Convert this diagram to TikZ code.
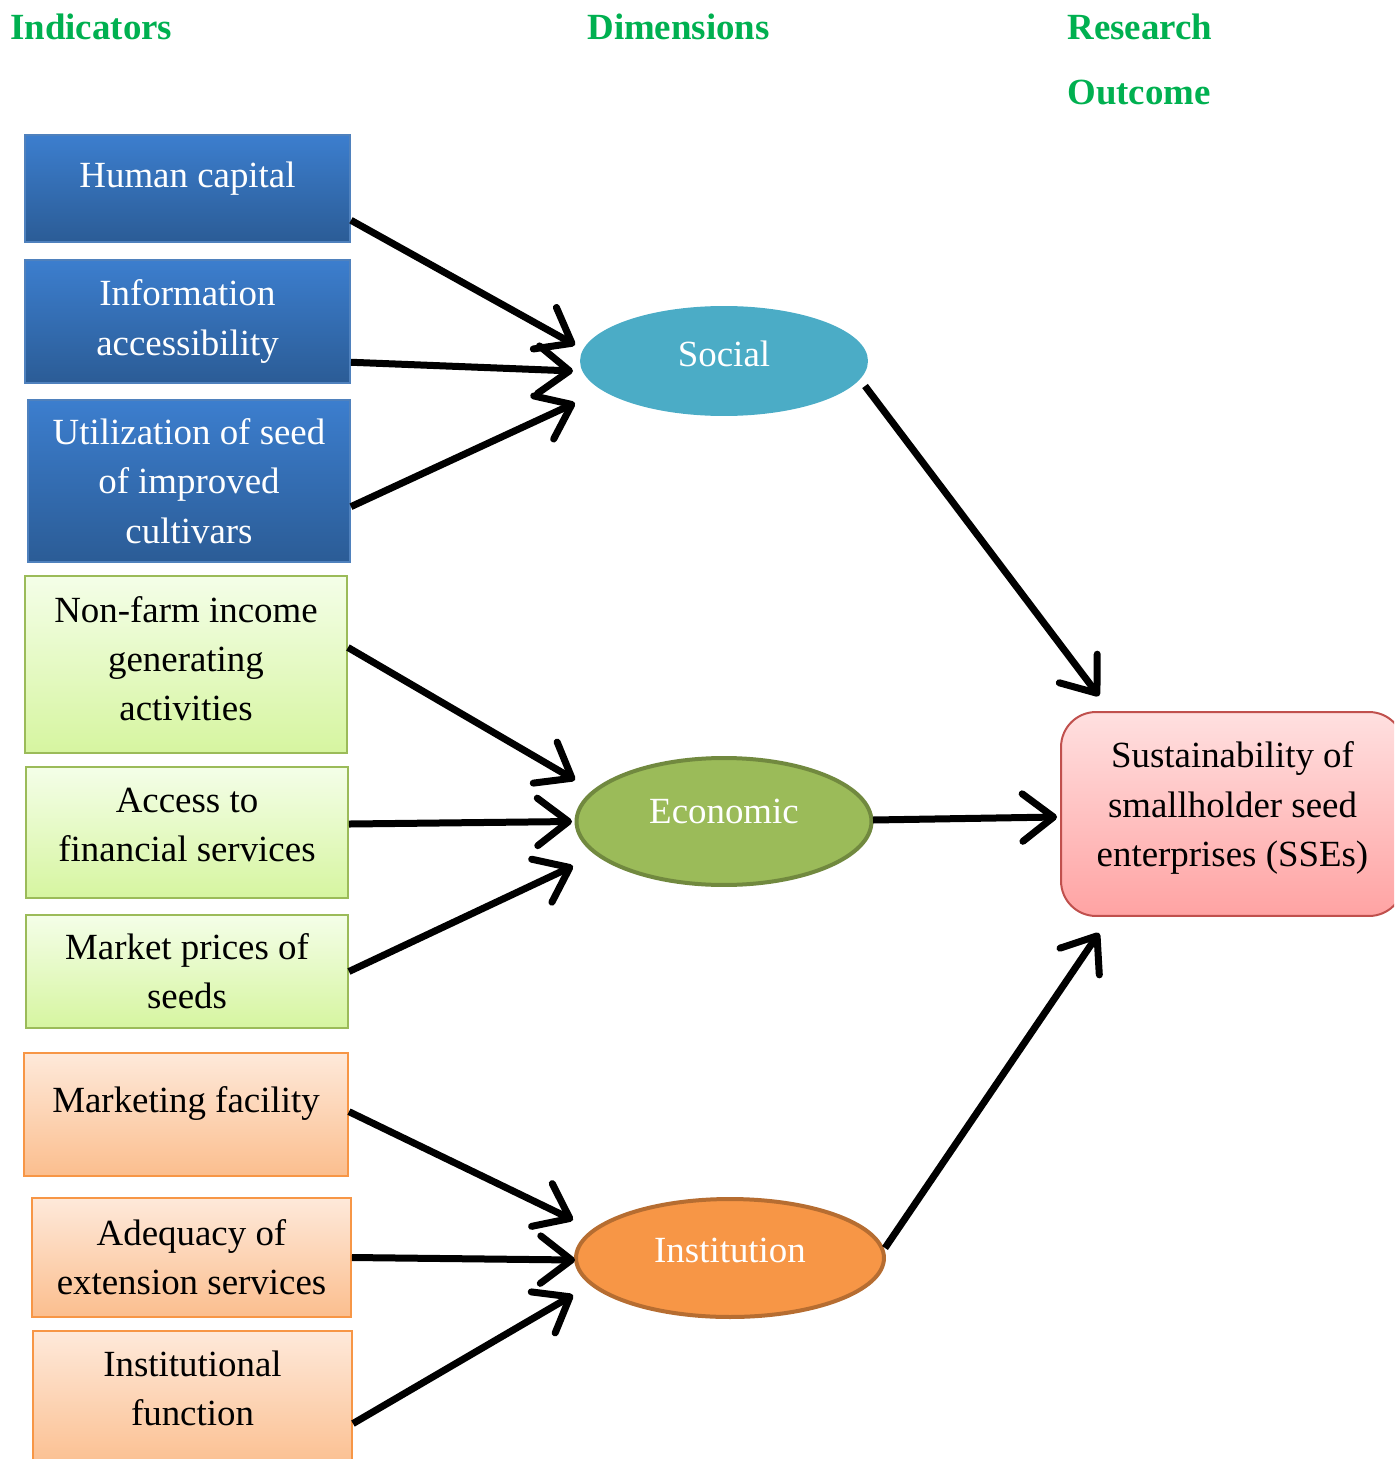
\documentclass[tikz,border=0pt]{standalone}
\usepackage{fontspec}
\setmainfont{Liberation Serif}
\usetikzlibrary{calc,arrows.meta,shapes.geometric}

\definecolor{headgreen}{RGB}{0,176,80}
\definecolor{bluetop}{RGB}{60,126,206}
\definecolor{bluebot}{RGB}{43,92,150}
\definecolor{blueline}{RGB}{79,129,189}
\definecolor{greentop}{RGB}{244,254,232}
\definecolor{greenbot}{RGB}{214,245,160}
\definecolor{greenline}{RGB}{155,187,89}
\definecolor{orangetop}{RGB}{254,233,218}
\definecolor{orangebot}{RGB}{251,190,142}
\definecolor{orangeline}{RGB}{247,150,70}
\definecolor{pinktop}{RGB}{255,224,224}
\definecolor{pinkbot}{RGB}{255,163,163}
\definecolor{pinkline}{RGB}{192,80,77}
\definecolor{socialfill}{RGB}{75,172,198}
\definecolor{ecofill}{RGB}{155,187,89}
\definecolor{ecoline}{RGB}{113,137,63}
\definecolor{instfill}{RGB}{247,150,70}
\definecolor{instline}{RGB}{182,109,49}

\tikzset{
  head/.style={inner sep=0pt, text=headgreen, align=left,
    font=\bfseries\fontsize{21}{37}\selectfont},
  box/.style={rectangle, align=center, inner sep=0pt, line width=0.04cm,
    font=\fontsize{21}{28}\selectfont},
  bluebox/.style={box, draw=blueline, top color=bluetop, bottom color=bluebot, text=white},
  greenbox/.style={box, draw=greenline, top color=greentop, bottom color=greenbot},
  orangebox/.style={box, draw=orangeline, top color=orangetop, bottom color=orangebot},
  dim/.style={ellipse, inner sep=0pt, text=white, font=\fontsize{21}{28}\selectfont},
  link/.style={line width=0.14cm, -{Straight Barb[length=0.62cm,width=0.95cm,round]}},
}

\begin{document}
\begin{tikzpicture}[x=0.02cm,y=-0.02cm]
\path[use as bounding box, clip] (0,0) rectangle (1394,1459);

% column titles
\node[head, anchor=base west] (ti) at (10,39.5) {Indicators};
\node[head, anchor=base west] (td) at (587,39.5) {Dimensions};
\node[head, anchor=north west] (tr) at (1067,14) {Research\\Outcome};

% indicators
\node[bluebox, minimum width=6.5cm, minimum height=2.14cm, text depth=0.54cm] (hc) at (187.5,188.5) {Human capital};
\node[bluebox, minimum width=6.5cm, minimum height=2.46cm] (ia) at (187.5,321.5) {Information\\accessibility};
\node[bluebox, minimum width=6.44cm, minimum height=3.24cm] (us) at (189,481) {Utilization of seed\\of improved\\cultivars};
\node[greenbox, minimum width=6.44cm, minimum height=3.54cm, text depth=0.24cm] (nf) at (186,664.5) {Non-farm income\\generating\\activities};
\node[greenbox, minimum width=6.44cm, minimum height=2.62cm, text depth=0.32cm] (af) at (187,832.5) {Access to\\financial services};
\node[greenbox, minimum width=6.44cm, minimum height=2.26cm] (mp) at (187,971.5) {Market prices of\\seeds};
\node[orangebox, minimum width=6.48cm, minimum height=2.46cm, text depth=0.62cm] (mf) at (186,1114.5) {Marketing facility};
\node[orangebox, minimum width=6.38cm, minimum height=2.38cm] (ae) at (191.5,1257.5) {Adequacy of\\extension services};
\node[orangebox, minimum width=6.38cm, minimum height=2.8cm, text depth=0.52cm] (inf) at (192.5,1401) {Institutional\\function};

% dimensions
\node[dim, fill=socialfill, minimum width=5.76cm, minimum height=2.2cm, text depth=0.28cm] (social) at (724,361) {Social};
\node[dim, fill=ecofill, draw=ecoline, line width=0.08cm, minimum width=5.9cm, minimum height=2.54cm, text depth=0.42cm] (eco) at (724,821.5) {Economic};
\node[dim, fill=instfill, draw=instline, line width=0.08cm, minimum width=6.16cm, minimum height=2.36cm, text depth=0.32cm] (inst) at (730,1258) {Institution};

% outcome
\node[box, draw=pinkline, top color=pinktop, bottom color=pinkbot, rounded corners=0.7cm,
  minimum width=6.86cm, minimum height=4.08cm, text depth=0.4cm] (sse) at (1232.5,814)
  {Sustainability of\\smallholder seed\\enterprises (SSEs)};

% indicators to dimensions
\draw[link] (hc.-11.6) -- ($(social.center)+(-149,-16)$);
\draw[link] (ia.-14) -- ($(social.center)+(-151,10)$);
\draw[link] (us.-9.2) -- ($(social.center)+(-149,42)$);
\draw[link] (nf.6.9) -- ($(eco.center)+(-149,-41.5)$);
\draw[link] (af.3.7) -- ($(eco.center)+(-152,0)$);
\draw[link] (mp.0) -- ($(eco.center)+(-151,44.5)$);
\draw[link] (mf.1.6) -- ($(inst.center)+(-157,-38)$);
\draw[link] (ae.0.5) -- ($(inst.center)+(-155,2)$);
\draw[link] (inf.-8.6) -- ($(inst.center)+(-157,37)$);

% dimensions to outcome
\draw[link] ($(social.center)+(141,25)$) -- ($(sse.north west)+(39,-15)$);
\draw[link] ($(eco.center)+(149,-1.5)$) -- ($(sse.west)+(-3,3)$);
\draw[link] ($(inst.center)+(155,-10)$) -- ($(sse.south west)+(39,16)$);
\end{tikzpicture}
\end{document}
